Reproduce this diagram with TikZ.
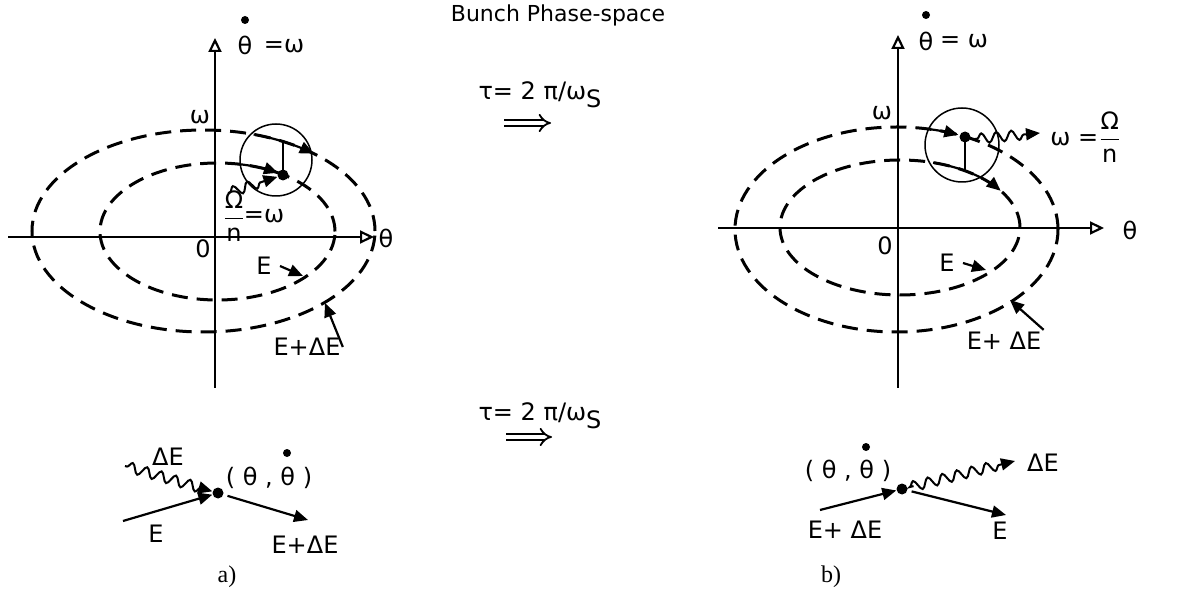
\documentclass[tikz,border=0pt]{standalone}
\usepackage{fontspec}
\usepackage{amsmath}
\setmainfont{DejaVu Sans}
\newfontfamily\serifabc{Liberation Serif}
\usetikzlibrary{arrows.meta,decorations.pathmorphing}
\begin{document}
\begin{tikzpicture}[x=0.5pt,y=-0.5pt,
 axis/.style={line width=1pt,-{Triangle[open,length=7pt,width=6.5pt,line width=1.1pt]}},
 orbit/.style={line width=1.5pt,dash pattern=on 8pt off 4.5pt},
 ring/.style={line width=0.75pt},
 arr/.style={line width=1.1pt,-{Triangle[length=7pt,width=6pt]}},
 wave/.style={line width=1pt,-{Triangle[length=7pt,width=6pt]},decorate,
   decoration={snake,amplitude=2.5pt,segment length=7.5pt,pre length=1pt,post length=6pt}},
 pt/.style={circle,fill,inner sep=0pt,minimum size=5.5pt},
 smalldot/.style={circle,fill,inner sep=0pt,minimum size=4pt},
 lbl/.style={font=\fontsize{12}{14}\selectfont,inner sep=1pt},
 ttl/.style={font=\fontsize{11}{13}\selectfont,inner sep=1pt},
 abc/.style={font=\serifabc\fontsize{12}{14}\selectfont,inner sep=1pt},
 dbl/.style={double,double distance=2.2pt,line width=0.9pt,-{Implies}},
]
\useasboundingbox (0,0) rectangle (1195,593);

% title and middle
\node[ttl] (title) at (558,15) {Bunch Phase-space};
\node[lbl] (tau1) at (540,95) {τ= 2 π/ω\raisebox{-0.6ex}{S}};
\coordinate (d1a) at (504,123); \coordinate (d1b) at (551,123);
\draw[dbl] (d1a) -- (d1b);
\node[lbl] (tau2) at (540,416) {τ= 2 π/ω\raisebox{-0.6ex}{S}};
\coordinate (d2a) at (506,437); \coordinate (d2b) at (552,437);
\draw[dbl] (d2a) -- (d2b);

% ---------- left phase space ----------
\coordinate (LxS) at (8,237); \coordinate (LxE) at (374,237);
\draw[axis] (LxS) -- (LxE);
\coordinate (LyS) at (215,388); \coordinate (LyE) at (215,38);
\draw[axis] (LyS) -- (LyE);
\node[lbl] (Lth) at (386,238) {θ};
\node[smalldot] (Ldd) at (245,20) {};
\node[lbl] (Lthd) at (245,45) {θ};
\node[lbl] (Leq) at (284,46) {=ω};
\node[lbl] (Lom) at (200,117) {ω};
\node[lbl] (L0) at (203,249) {0};
\coordinate (Lc1) at (203.5,231);
\draw[orbit] (Lc1) ellipse [x radius=85.75pt, y radius=50.5pt];
\coordinate (Lc2) at (217.5,231.5);
\draw[orbit] (Lc2) ellipse [x radius=58.75pt, y radius=34.25pt];
\coordinate (Lcc) at (276,160);
\draw[ring] (Lcc) circle [radius=18pt];
\draw[arr] plot[domain=73:50,samples=20,smooth,variable=\t] ({203.5+171.5*cos(\t)},{231-101*sin(\t)});
\draw[arr] plot[domain=80:59,samples=20,smooth,variable=\t] ({217.5+117.5*cos(\t)},{231.5-68.5*sin(\t)});
\node[pt] (Lp) at (283,175) {};
\coordinate (Ltop) at (283,141);
\draw[line width=1.1pt] (Lp.center) -- (Ltop);
\coordinate (Lw) at (228,193);
\draw[wave] (Lw) -- (Lp);
\node[lbl] (Lfr) at (234,216) {$\dfrac{\text{Ω}}{\text{n}}$};
\node[lbl] (Lfeq) at (264,216) {=ω};
\node[lbl] (LE) at (264,266) {E};
\coordinate (LEt) at (303,276);
\draw[arr] (LE.east) ++(3pt,0) -- (LEt);
\node[lbl] (LEd) at (307,347) {E+ΔE};
\coordinate (LEdt) at (325,303);
\draw[arr] (LEd.east) -- (LEdt);

% ---------- right phase space ----------
\coordinate (RxS) at (718,228); \coordinate (RxE) at (1104,228);
\draw[axis] (RxS) -- (RxE);
\coordinate (RyS) at (898,388); \coordinate (RyE) at (898,35);
\draw[axis] (RyS) -- (RyE);
\node[lbl] (Rth) at (1130,230) {θ};
\node[smalldot] (Rdd) at (926,15) {};
\node[lbl] (Rthd) at (926,41) {θ};
\node[lbl] (Req) at (964,41) {= ω};
\node[lbl] (Rom) at (882,113) {ω};
\node[lbl] (R0) at (885,246) {0};
\coordinate (Rc1) at (896.5,229.5);
\draw[orbit] (Rc1) ellipse [x radius=80.75pt, y radius=51.25pt];
\coordinate (Rc2) at (900,227.5);
\draw[orbit] (Rc2) ellipse [x radius=60pt, y radius=33.75pt];
\coordinate (Rcc) at (962,145);
\draw[ring] (Rcc) circle [radius=18.5pt];
\draw[arr] plot[domain=78:67.5,samples=15,smooth,variable=\t] ({896.5+161.5*cos(\t)},{229.5-102.5*sin(\t)});
\draw[arr] plot[domain=74:33,samples=20,smooth,variable=\t] ({900+120*cos(\t)},{227.5-67.5*sin(\t)});
\node[pt] (Rp) at (965,137) {};
\coordinate (Rbot) at (965,171);
\draw[line width=1.1pt] (Rp.center) -- (Rbot);
\coordinate (Rwe) at (1040,133);
\draw[wave] (Rp) ++(5pt,-1pt) -- (Rwe);
\node[lbl,anchor=west] (Rlab) at (1048,137) {ω =$\dfrac{\text{Ω}}{\text{n}}$};
\node[lbl] (RE) at (947,263) {E};
\coordinate (REt) at (986,270);
\draw[arr] (RE.east) ++(3pt,0) -- (REt);
\node[lbl] (REd) at (1004,341) {E+ ΔE};
\coordinate (REdt) at (1010,300);
\draw[arr] (REd.north east) -- (REdt);

% ---------- bottom left ----------
\node[pt] (Lb) at (218,493) {};
\coordinate (bw1) at (125,466);
\draw[wave] (bw1) -- (Lb);
\node[lbl] (bdE) at (168,457) {ΔE};
\coordinate (bE1) at (123,521);
\draw[arr] (bE1) -- (Lb);
\node[lbl] (bE) at (156,534) {E};
\coordinate (bo) at (308,520);
\draw[arr,shorten <=2pt] (Lb) -- (bo);
\node[lbl] (bEd) at (305,545) {E+ΔE};
\node[lbl] (bth) at (269,478) {( θ , θ )};
\node[smalldot] (bthd) at (287,453) {};

% ---------- bottom right ----------
\node[pt] (Rb) at (902,489) {};
\node[lbl] (rth) at (848,471) {( θ , θ )};
\node[smalldot] (rthd) at (866,447) {};
\coordinate (rin) at (820,510);
\draw[arr] (rin) -- (Rb);
\node[lbl] (rEd) at (845,530) {E+ ΔE};
\coordinate (rwe) at (1015,461);
\draw[wave,shorten <=3pt] (Rb) -- (rwe);
\node[lbl] (rdE) at (1043,463) {ΔE};
\coordinate (rout) at (1006,515);
\draw[arr,shorten <=2pt] (Rb) -- (rout);
\node[lbl] (rE) at (1000,531) {E};

\node[abc] (la) at (227,577) {a)};
\node[abc] (lb) at (831,577) {b)};
\end{tikzpicture}
\end{document}
